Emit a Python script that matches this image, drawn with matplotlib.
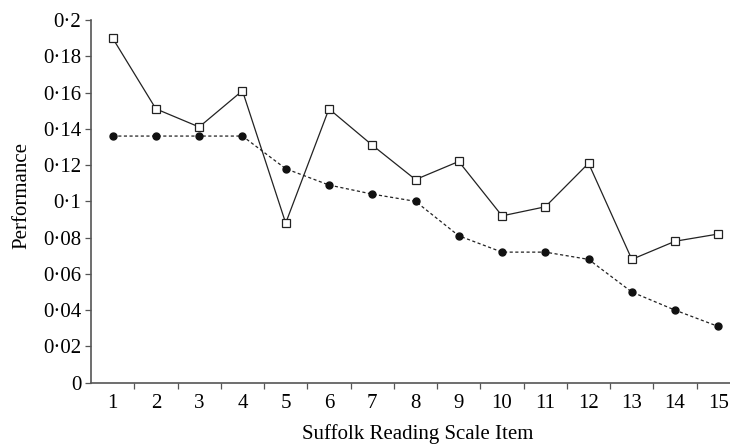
import numpy as np
import matplotlib
matplotlib.use('Agg')
import matplotlib.pyplot as plt
from matplotlib.ticker import FuncFormatter, FixedLocator

# 항목 번호와 두 시리즈 값
items = np.arange(1, 16)
squares = [0.190, 0.151, 0.141, 0.161, 0.088, 0.151, 0.131, 0.112, 0.122,
           0.092, 0.097, 0.121, 0.068, 0.078, 0.082]
circles = [0.136, 0.136, 0.136, 0.136, 0.118, 0.109, 0.104, 0.100, 0.081,
           0.072, 0.072, 0.068, 0.050, 0.040, 0.031]
yticks = [0, 0.02, 0.04, 0.06, 0.08, 0.1, 0.12, 0.14, 0.16, 0.18, 0.2]

plt.rcParams['font.family'] = ['Liberation Serif', 'DejaVu Serif']
fs = 15

fig = plt.figure(figsize=(7.3, 4.45), dpi=100)
ax = fig.add_axes([91 / 730, 62.3 / 445, 649 / 730, 362.7 / 445])

ax.plot(items, squares, color='#222222', lw=0.9, marker='s', ms=5.5,
        mfc='white', mec='#222222', mew=0.9)
ax.plot(items, circles, color='#222222', lw=0.9, ls=(0, (2.5, 2)),
        marker='o', ms=5, mfc='#111111', mec='#111111')

ax.set_xlim(0.5, 15.5)
ax.set_ylim(0, 0.2)
ax.set_xticks(items)
ax.xaxis.set_minor_locator(FixedLocator(np.arange(1.5, 15.6, 1)))
ax.tick_params(axis='x', which='major', length=0, pad=8, labelsize=fs)
ax.tick_params(axis='x', which='minor', length=4, width=0.9, color='#555555')
ax.set_yticks(yticks)
# 소수점 대신 가운뎃점 사용
ax.yaxis.set_major_formatter(FuncFormatter(lambda v, p: ('%g' % v).replace('.', '\u00b7')))
ax.tick_params(axis='y', length=4, width=0.9, color='#555555', labelsize=fs, pad=3)

for s in ['top', 'right']:
    ax.spines[s].set_visible(False)
for s in ['left', 'bottom']:
    ax.spines[s].set_color('#555555')
    ax.spines[s].set_linewidth(1.2)

ax.set_xlabel('Suffolk Reading Scale Item', fontsize=fs)
ax.set_ylabel('Performance', fontsize=fs)
ax.xaxis.set_label_coords((418 - 91) / 649, -0.113)
ax.yaxis.set_label_coords(-60 / 649, 0.515)

fig.savefig('out.png', dpi=100)
